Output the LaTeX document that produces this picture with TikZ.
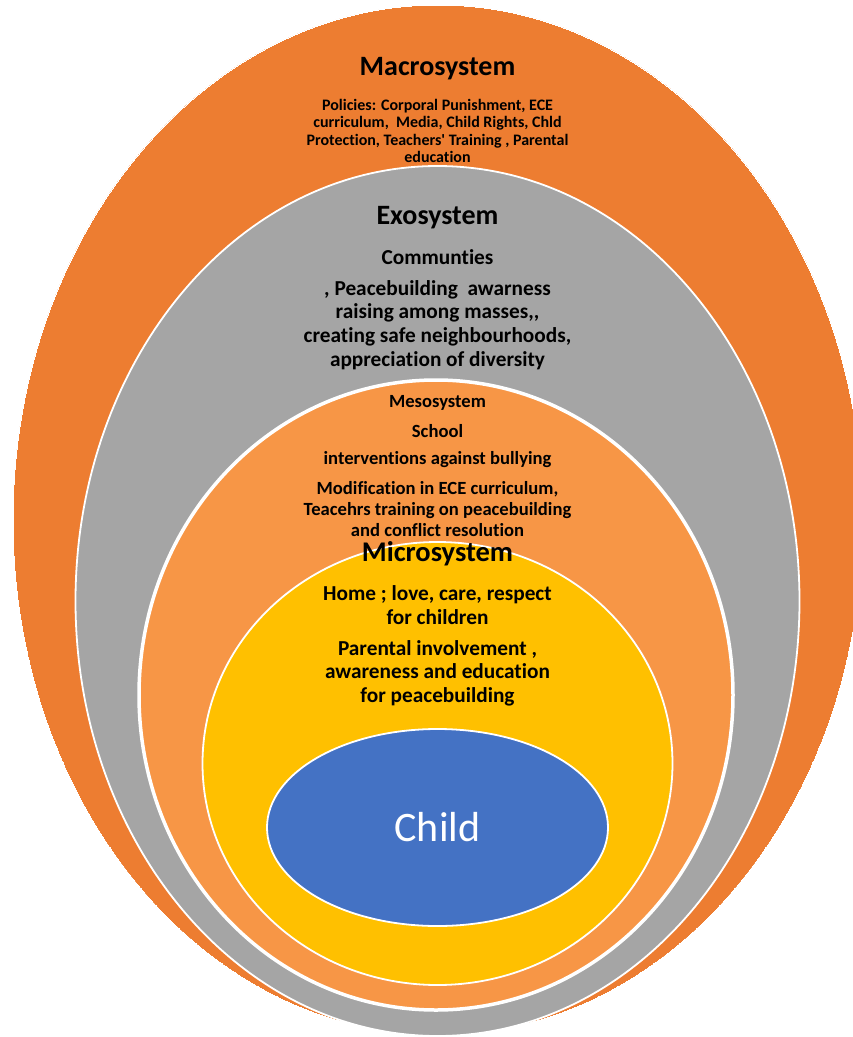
\documentclass[tikz,border=0pt]{standalone}
\usepackage{fontspec}
\setmainfont{Carlito}[Ligatures={NoCommon}]
\usetikzlibrary{shapes.geometric}
\definecolor{macroC}{HTML}{ED7D31}
\definecolor{exoC}{HTML}{A5A5A5}
\definecolor{mesoC}{HTML}{F79646}
\definecolor{microC}{HTML}{FFC000}
\definecolor{childC}{HTML}{4472C4}
\tikzset{
  layer/.style={ellipse, inner sep=0pt, draw=white, line width=#1},
  txt/.style={align=center, inner sep=0pt, font=\bfseries, text=black},
}
\begin{document}
\begin{tikzpicture}[x=1pt,y=-1pt]
\useasboundingbox (0,0) rectangle (853,1037);
\clip (0,0) rectangle (853,1037);
\fill[white] (0,0) rectangle (853,1037);
\node[layer=0pt, fill=macroC, minimum width=850pt, minimum height=1030pt] (macro) at (438,520) {};
\node[layer=1.8pt, fill=exoC, minimum width=724pt, minimum height=870pt] (exo) at (437.5,601) {};
\node[layer=3.5pt, fill=mesoC, minimum width=594pt, minimum height=630pt] (meso) at (436,695) {};
\node[layer=1.8pt, fill=microC, minimum width=470pt, minimum height=443pt] (micro) at (437.5,763.5) {};
\node[layer=1.8pt, fill=childC, minimum width=341pt, minimum height=197pt] (child) at (437.5,827.5) {};
\node[inner sep=0pt, text=white, font=\fontsize{42}{48}\selectfont] (childT) at (437.5,827.5) {Child};
% Macrosystem
\node[txt, font=\bfseries\fontsize{28}{32}\selectfont] (macroT) at (437.5,69) {Macrosystem};
\node[txt, font=\bfseries\fontsize{16}{17.6}\selectfont] (macroB) at (437.5,131) {Policies: Corporal Punishment, ECE\\curriculum,\ \ Media, Child Rights, Chld\\Protection, Teachers\textquotesingle{} Training , Parental\\education};
% Exosystem
\node[txt, font=\bfseries\fontsize{28}{32}\selectfont] (exoT) at (437.5,218) {Exosystem};
\node[txt, font=\bfseries\fontsize{21.3}{23.7}\selectfont] (exoC) at (437.5,257) {Communties};
\node[txt, font=\bfseries\fontsize{21.3}{23.7}\selectfont] (exoB) at (437.5,325) {, Peacebuilding\ \ awarness\\raising among masses,{},\\creating safe neighbourhoods,\\appreciation of diversity};
% Mesosystem
\node[txt, font=\bfseries\fontsize{18.6}{21}\selectfont] (mesoT) at (437.5,403) {Mesosystem};
\node[txt, font=\bfseries\fontsize{18.6}{21}\selectfont] (mesoS) at (437.5,431) {School};
\node[txt, font=\bfseries\fontsize{18.6}{21}\selectfont] (mesoI) at (437.5,460) {interventions against bullying};
\node[txt, font=\bfseries\fontsize{18.6}{21}\selectfont] (mesoB) at (437.5,509) {Modification in ECE curriculum,\\Teacehrs training on peacebuilding\\and conflict resolution};
% Microsystem
\node[txt, font=\bfseries\fontsize{28.5}{32}\selectfont] (microT) at (437.5,554) {Microsystem};
\node[txt, font=\bfseries\fontsize{21.3}{23.5}\selectfont] (microH) at (437.5,605) {Home ; love, care, respect\\for children};
\node[txt, font=\bfseries\fontsize{21.3}{23.5}\selectfont] (microP) at (437.5,673) {Parental involvement ,\\awareness and education\\for peacebuilding};
\end{tikzpicture}
\end{document}
